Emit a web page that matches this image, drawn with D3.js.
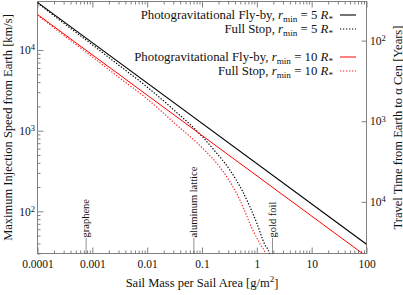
<!DOCTYPE html>
<html>
<head>
    <meta charset="utf-8">
    <title>Injection speed vs sail mass</title>
    <script src="https://cdn.jsdelivr.net/npm/d3@7"></script>
    <style>
        body { margin: 0; background: #fff; }
        svg text { font-family: "Liberation Serif", "DejaVu Serif", serif; fill: #111; }
    </style>
</head>
<body>
<svg width="403" height="295" id="mainsvg"></svg>
<script>
    // values
    const sigmaFly = [0.0001, 100];
    const flyBy5 = [39000, 39];
    const flyBy10 = [27600, 27.6];

    const sigmaStop5 = [0.0001, 0.0003, 0.001, 0.003, 0.01, 0.03, 0.1, 0.17, 0.32, 0.55, 1.0, 1.39, 1.7, 1.75];
    const fullStop5 = [38500, 21570, 11640, 6540, 3480, 1830, 851, 564, 328, 177, 71, 39, 30, 25];
    const sigmaStop10 = [0.0001, 0.0003, 0.001, 0.003, 0.01, 0.03, 0.11, 0.21, 0.49, 0.84, 1.18, 1.42, 1.46];
    const fullStop10 = [27200, 15270, 8240, 4625, 2478, 1280, 578, 356, 139, 59, 38, 30, 25];

    const xTicks = [0.0001, 0.001, 0.01, 0.1, 1, 10, 100];
    const xTickLabels = ['0.0001', '0.001', '0.01', '0.1', '1', '10', '100'];
    const speedTicks = [100, 1000, 10000];
    const speedExp = ['2', '3', '4'];
    const yearTicks = [100, 1000, 10000];
    const yearExp = ['2', '3', '4'];

    const materials = ['graphene', 'aluminum lattice', 'gold foil'];
    const materialSigma = [0.00077, 0.071, 1.93];

    const legendKind = ['Photogravitational Fly-by, ', 'Full Stop, ', 'Photogravitational Fly-by, ', 'Full Stop, '];
    const legendRmin = ['5', '5', '10', '10'];

    // km/s -> years to alpha Cen (4.37 ly)
    const yearsTimesSpeed = 1.31e6;

    const svg = d3.select('#mainsvg');
    const pLeft = 37.5, pRight = 366.5, pTop = 1.5, pBottom = 253.5;
    const axisColor = '#808080';

    const x = d3.scaleLog().domain([0.0001, 100]).range([pLeft, pRight]);
    const y = d3.scaleLog().domain([30, 40000]).range([pBottom, pTop]);
    const yYears = d3.scaleLog().domain([yearsTimesSpeed / 30, yearsTimesSpeed / 40000]).range([pBottom, pTop]);

    // minor tick positions per decade
    function minors(lo, hi) {
        const out = [];
        for (let e = lo; e < hi; e++)
            for (let m = 2; m <= 9; m++) out.push(m * Math.pow(10, e));
        return out;
    }

    function styleAxis(g) {
        g.select('.domain').remove();
        g.selectAll('.tick line').attr('stroke', axisColor);
        g.attr('font-family', null).attr('font-size', null);
    }

    // bottom axis
    const gBottom = svg.append('g').attr('transform', `translate(0,${pBottom})`);
    gBottom.append('g').call(d3.axisBottom(x).tickValues(minors(-4, 2)).tickSize(-3).tickFormat(''));
    gBottom.append('g').call(d3.axisBottom(x).tickValues(xTicks).tickSize(-6).tickPadding(6).tickFormat((d, i) => xTickLabels[i]));
    gBottom.selectAll('g').each(function () { styleAxis(d3.select(this)); });
    gBottom.selectAll('text').attr('font-size', '11.5px');

    // top axis (mirror, no labels)
    const gTop = svg.append('g').attr('transform', `translate(0,${pTop})`);
    gTop.append('g').call(d3.axisTop(x).tickValues(minors(-4, 2)).tickSize(-3).tickFormat(''));
    gTop.append('g').call(d3.axisTop(x).tickValues(xTicks).tickSize(-6).tickFormat(''));
    gTop.selectAll('g').each(function () { styleAxis(d3.select(this)); });

    // left axis
    const gLeft = svg.append('g').attr('transform', `translate(${pLeft},0)`);
    gLeft.append('g').call(d3.axisLeft(y).tickValues(minors(1, 4).filter(v => v >= 30 && v <= 40000)).tickSize(-3).tickFormat(''));
    const gLeftMajor = gLeft.append('g').call(d3.axisLeft(y).tickValues(speedTicks).tickSize(-6).tickPadding(2.5).tickFormat(''));
    gLeft.selectAll('g').each(function () { styleAxis(d3.select(this)); });
    gLeftMajor.selectAll('.tick text').each(function (d, i) {
        const t = d3.select(this).attr('font-size', '11.5px');
        t.append('tspan').text('10');
        t.append('tspan').attr('dy', '-0.45em').attr('font-size', '8.5px').text(speedExp[i]);
    });

    // right axis: travel time
    const gRight = svg.append('g').attr('transform', `translate(${pRight},0)`);
    gRight.call(d3.axisRight(yYears).tickValues(yearTicks).tickSize(-5).tickPadding(3.5).tickFormat(''));
    styleAxis(gRight);
    gRight.selectAll('.tick text').each(function (d, i) {
        const t = d3.select(this).attr('font-size', '11.5px');
        t.append('tspan').text('10');
        t.append('tspan').attr('dy', '-0.45em').attr('font-size', '8.5px').text(yearExp[i]);
    });

    // frame
    svg.append('rect')
        .attr('x', pLeft).attr('y', pTop)
        .attr('width', pRight - pLeft).attr('height', pBottom - pTop)
        .attr('fill', 'none').attr('stroke', axisColor).attr('stroke-width', 1);

    // axis titles
    const xt = svg.append('text')
        .attr('x', (pLeft + pRight) / 2).attr('y', 286.5)
        .attr('text-anchor', 'middle').attr('font-size', '12.5px');
    xt.append('tspan').text('Sail Mass per Sail Area [g/m');
    xt.append('tspan').attr('dy', '-0.45em').attr('font-size', '9px').text('2');
    xt.append('tspan').attr('dy', '0.45em').text(']');

    svg.append('text')
        .attr('transform', `translate(11.5,${(pTop + pBottom) / 2}) rotate(-90)`)
        .attr('text-anchor', 'middle').attr('font-size', '12.5px')
        .text('Maximum Injection Speed from Earth [km/s]');

    svg.append('text')
        .attr('transform', `translate(401.5,${(pTop + pBottom) / 2}) rotate(-90)`)
        .attr('text-anchor', 'middle').attr('font-size', '12.5px')
        .text('Travel Time from Earth to α Cen [Years]');

    // material markers
    materials.forEach((name, i) => {
        const px = x(materialSigma[i]);
        svg.append('line')
            .attr('x1', px).attr('x2', px)
            .attr('y1', pBottom).attr('y2', pBottom - 15)
            .attr('stroke', '#222').attr('stroke-width', 1)
            .attr('stroke-dasharray', '1,1');
        svg.append('text')
            .attr('transform', `translate(${px},${pBottom - 16}) rotate(-90)`)
            .attr('dy', '0.3em')
            .attr('font-size', '10.5px')
            .text(name);
    });

    // curves
    svg.append('clipPath').attr('id', 'plotclip')
        .append('rect').attr('x', pLeft).attr('y', pTop)
        .attr('width', pRight - pLeft).attr('height', pBottom - pTop);

    const series = [
        { xs: sigmaFly, ys: flyBy5, color: '#000', dash: null, w: 1.1 },
        { xs: sigmaStop5, ys: fullStop5, color: '#000', dash: '1.3,1.7', w: 1.2 },
        { xs: sigmaFly, ys: flyBy10, color: '#f00', dash: null, w: 1 },
        { xs: sigmaStop10, ys: fullStop10, color: '#f22', dash: '1.3,1.7', w: 1.2 }
    ];

    const line = d3.line()
        .x(d => x(d[0]))
        .y(d => y(d[1]))
        .curve(d3.curveMonotoneX);

    const gLines = svg.append('g').attr('clip-path', 'url(#plotclip)');
    series.forEach(s => {
        gLines.append('path')
            .datum(d3.zip(s.xs, s.ys))
            .attr('d', line)
            .attr('fill', 'none')
            .attr('stroke', s.color)
            .attr('stroke-width', s.w)
            .attr('stroke-dasharray', s.dash);
    });

    // legend
    const legendY = [18.5, 32.5, 60.5, 74.5];
    series.forEach((s, i) => {
        const t = svg.append('text')
            .attr('x', 333).attr('y', legendY[i])
            .attr('text-anchor', 'end').attr('font-size', '12.8px');
        t.append('tspan').text(legendKind[i]);
        t.append('tspan').attr('font-style', 'italic').text('r');
        t.append('tspan').attr('dy', 3).attr('font-size', '9.2px').text('min');
        t.append('tspan').attr('dy', -3).text(' = ' + legendRmin[i] + ' ');
        t.append('tspan').attr('font-style', 'italic').text('R');
        t.append('tspan').attr('dy', 3).attr('font-size', '9.2px').text('*');
        svg.append('line')
            .attr('x1', 340).attr('x2', 356)
            .attr('y1', legendY[i] - 3.5).attr('y2', legendY[i] - 3.5)
            .attr('stroke', s.color)
            .attr('stroke-width', s.w)
            .attr('stroke-dasharray', s.dash);
    });
</script>
</body>
</html>
